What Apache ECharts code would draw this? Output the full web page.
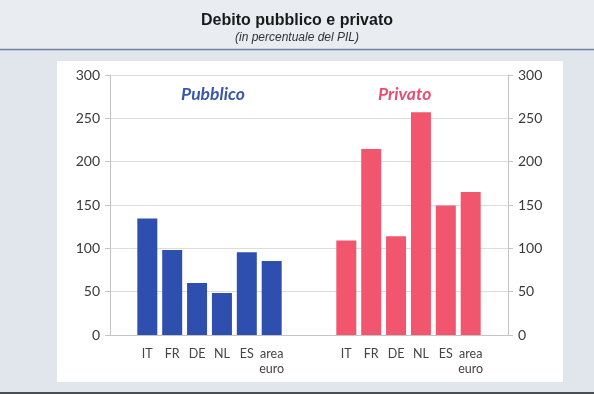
<!DOCTYPE html>
<html>
<head>
<meta charset="utf-8">
<script src="https://cdn.jsdelivr.net/npm/echarts@6/dist/echarts.min.js"></script>
<style>
html,body{margin:0;padding:0;background:#e3e7ec;}
#c{width:594px;height:394px;}
</style>
</head>
<body>
<div id="c"></div>
<script>
var categories = ['', 'IT', 'FR', 'DE', 'NL', 'ES', 'area\neuro', '', '', 'IT', 'FR', 'DE', 'NL', 'ES', 'area\neuro', ''];
var pubblicoCountries = ['IT', 'FR', 'DE', 'NL', 'ES', 'area euro'];
var pubblicoValues = [134.5, 98, 60, 48.5, 95.5, 85.5];
var privatoValues = [109, 214.5, 114, 257, 149.5, 165];
var yTicks = [0, 50, 100, 150, 200, 250, 300];

var pubStart = 1, privStart = 9;
var pubData = categories.map(function () { return '-'; });
var privData = categories.map(function () { return '-'; });
pubblicoValues.forEach(function (v, i) { pubData[pubStart + i] = v; });
privatoValues.forEach(function (v, i) { privData[privStart + i] = v; });

var chart = echarts.init(document.getElementById('c'), null, {renderer: 'canvas'});
var axisCommon = {
  type: 'value', min: yTicks[0], max: yTicks[yTicks.length - 1], interval: 50,
  axisLine: {show: true, lineStyle: {color: '#c4c4c4', width: 1}},
  axisTick: {show: true, length: 5, lineStyle: {color: '#c4c4c4'}},
  axisLabel: {fontFamily: 'Lato', fontSize: 14, color: '#3a3a3a', margin: 10}
};
chart.setOption({
  backgroundColor: '#e1e6ec',
  animation: false,
  title: {
    text: 'Debito pubblico e privato',
    subtext: '(in percentuale del PIL)',
    left: 'center', top: 8, itemGap: 3,
    textStyle: {fontFamily: 'Liberation Sans', fontWeight: 'bold', fontSize: 16, color: '#1a1a1a'},
    subtextStyle: {fontFamily: 'Liberation Sans', fontStyle: 'italic', fontSize: 12, color: '#333'}
  },
  graphic: [
    {type: 'rect', z: -10, shape: {x: 0, y: 0, width: 594, height: 49}, style: {fill: '#e9ecf1'}},
    {type: 'line', z: -5, shape: {x1: 0, y1: 49.5, x2: 594, y2: 49.5}, style: {stroke: '#6e7fa0', lineWidth: 1.5}},
    {type: 'rect', z: -5, shape: {x: 57, y: 61, width: 506, height: 321}, style: {fill: '#ffffff'}},
    {type: 'rect', z: -5, shape: {x: 0, y: 392, width: 594, height: 2}, style: {fill: '#4a4d52'}},
    {type: 'text', left: 181, top: 85, style: {text: 'Pubblico', fontFamily: 'Lato', fontWeight: 'bold', fontStyle: 'italic', fontSize: 17.5, fill: '#3a55ad'}},
    {type: 'text', left: 378, top: 85, style: {text: 'Privato', fontFamily: 'Lato', fontWeight: 'bold', fontStyle: 'italic', fontSize: 17.5, fill: '#e84d72'}}
  ],
  grid: {left: 110, right: 86, top: 75, bottom: 59},
  xAxis: {
    type: 'category', data: categories,
    axisLine: {show: true, lineStyle: {color: '#c4c4c4'}},
    axisTick: {show: false},
    axisLabel: {interval: 0, fontFamily: 'Lato', fontSize: 12.5, color: '#444', lineHeight: 15, margin: 11}
  },
  yAxis: [
    Object.assign({}, axisCommon, {position: 'left', splitLine: {show: true, lineStyle: {color: '#dcdcdc'}}}),
    Object.assign({}, axisCommon, {position: 'right', splitLine: {show: false}})
  ],
  series: [
    {name: 'Pubblico', type: 'bar', stack: 'all', data: pubData, barWidth: 20,
      itemStyle: {color: '#2e4fae'}},
    {name: 'Privato', type: 'bar', stack: 'all', data: privData, barWidth: 20,
      itemStyle: {color: '#f2566e'}}
  ]
});
</script>
</body>
</html>
